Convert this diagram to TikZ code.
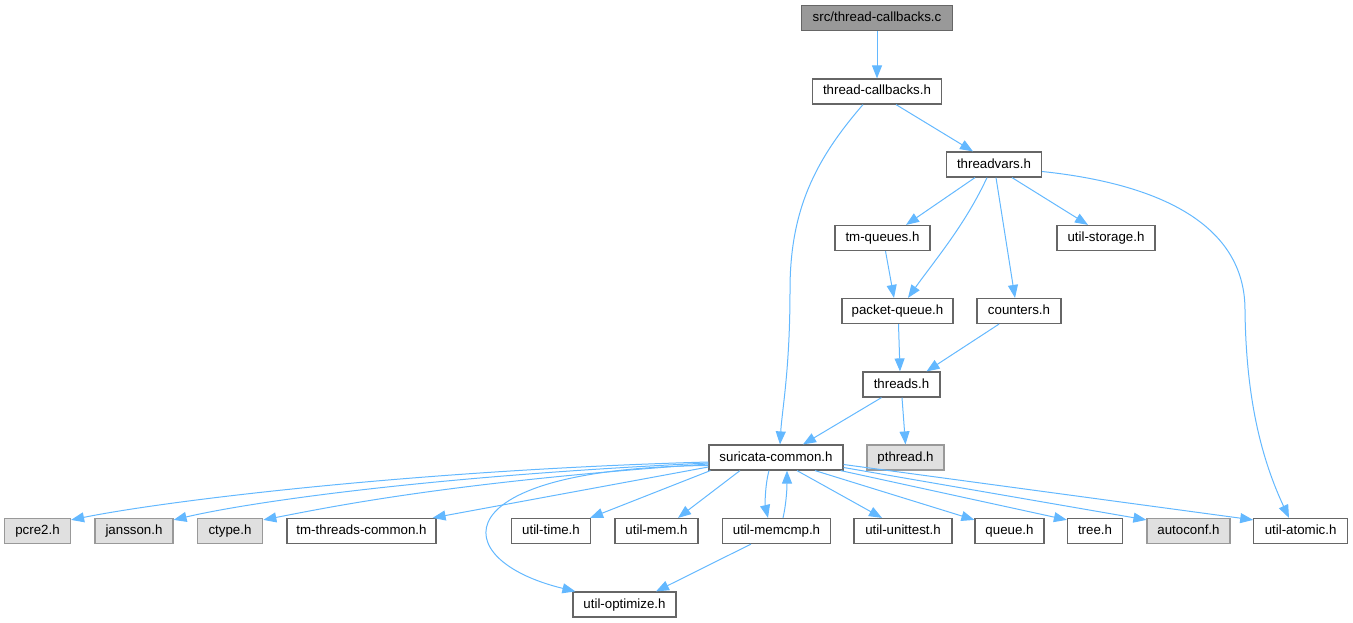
\documentclass[tikz,border=0pt]{standalone}
\usepackage{fontspec}
\setmainfont{Liberation Sans}
\usetikzlibrary{arrows.meta}
\definecolor{eblue}{HTML}{63B8FF}
\definecolor{bdark}{HTML}{666666}
\definecolor{bgray}{HTML}{999999}
\definecolor{flight}{HTML}{E0E0E0}
\tikzset{
  box/.style={draw=bdark, fill=white, line width=1.2pt, minimum height=25pt, inner sep=0pt,
    text height=9.8pt, text depth=2.8pt, font=\fontsize{13.3}{15}\selectfont},
  extbox/.style={box, draw=bgray, fill=flight},
  rootbox/.style={box, draw=bdark, fill=bgray},
  dep/.style={draw=eblue, line width=1pt, -{Triangle[length=13pt,width=10pt]}}
}
\begin{document}
\begin{tikzpicture}[x=1pt,y=-1pt]
\useasboundingbox (0,0) rectangle (1353,623);
% nodes
\node[rootbox, minimum width=151pt] (src) at (877,18) {src/thread-callbacks.c};
\node[box, minimum width=129pt] (tcb) at (877,91.5) {thread-callbacks.h};
\node[box, minimum width=95pt] (tv) at (994,164.5) {threadvars.h};
\node[box, minimum width=95pt] (tmq) at (882.5,238) {tm-queues.h};
\node[box, minimum width=98pt] (ustor) at (1106,238) {util-storage.h};
\node[box, minimum width=111pt] (pq) at (897.5,311) {packet-queue.h};
\node[box, minimum width=84pt] (cnt) at (1019,311) {counters.h};
\node[box, minimum width=77pt] (thr) at (901.5,384.5) {threads.h};
\node[box, minimum width=134pt] (sc) at (776,457.5) {suricata-common.h};
\node[extbox, minimum width=77pt] (pth) at (905.5,457.5) {pthread.h};
\node[extbox, minimum width=66pt] (pcre) at (37.5,531) {pcre2.h};
\node[extbox, minimum width=78pt] (jan) at (134,531) {jansson.h};
\node[extbox, minimum width=65.5pt] (ctype) at (230,531) {ctype.h};
\node[box, minimum width=149pt] (tmtc) at (361.5,531) {tm-threads-common.h};
\node[box, minimum width=79pt] (utime) at (551,531) {util-time.h};
\node[box, minimum width=83pt] (umem) at (656.5,531) {util-mem.h};
\node[box, minimum width=108pt] (umcmp) at (776.5,531) {util-memcmp.h};
\node[box, minimum width=98pt] (uunit) at (903,531) {util-unittest.h};
\node[box, minimum width=69pt] (queue) at (1009.5,531) {queue.h};
\node[box, minimum width=55pt] (tree) at (1095,531) {tree.h};
\node[extbox, minimum width=83pt] (autoc) at (1188.5,531) {autoconf.h};
\node[box, minimum width=93.6pt] (uatom) at (1300.6,531) {util-atomic.h};
\node[box, minimum width=103pt] (uopt) at (624.5,604.5) {util-optimize.h};
% edges
\draw[dep] (src) -- (tcb);
\draw[dep] ([xshift=19pt]tcb.south) -- ([xshift=-21pt]tv.north);
\draw[dep] ([xshift=-14pt]tcb.south) .. controls (815,160) and (790,210) .. (790,290)
  .. controls (790,370) and (782,410) .. ([xshift=4pt]sc.north);
\draw[dep] ([xshift=-19pt]tv.south) -- ([xshift=23.5pt]tmq.north);
\draw[dep] ([xshift=-7pt]tv.south) .. controls (965,225) and (935,260) .. ([xshift=10.5pt]pq.north);
\draw[dep] ([xshift=2pt]tv.south) -- ([xshift=-4pt]cnt.north);
\draw[dep] ([xshift=18pt]tv.south) -- ([xshift=-18pt]ustor.north);
\draw[dep] ([yshift=-7pt]tv.east) .. controls (1170,185) and (1245,230) .. (1245,310)
  .. controls (1246,400) and (1262,460) .. ([xshift=-11.6pt]uatom.north);
\draw[dep] ([xshift=3pt]tmq.south) -- ([xshift=-3.5pt]pq.north);
\draw[dep] ([xshift=1pt]pq.south) -- ([xshift=-1.5pt]thr.north);
\draw[dep] ([xshift=-20pt]cnt.south) -- ([xshift=25pt]thr.north);
\draw[dep] ([xshift=-20pt]thr.south) -- ([xshift=27pt]sc.north);
\draw[dep] ([xshift=0.5pt]thr.south) -- (pth.north);
% suricata-common fan
\draw[dep] ([yshift=-4.5pt]sc.west) .. controls (420,470) and (170,500) .. ([yshift=-2pt]pcre.north east);
\draw[dep] ([yshift=-5.5pt]sc.west) .. controls (430,476) and (250,502) .. ([yshift=-2pt]jan.north east);
\draw[dep] ([yshift=-6.5pt]sc.west) .. controls (450,482) and (330,507) .. ([yshift=-2pt]ctype.north east);
\draw[dep] ([yshift=-9.5pt]sc.west) -- ([xshift=-4pt]tmtc.north east);
\draw[dep] ([yshift=-8pt]sc.west) .. controls (440,468) and (445,560) .. ([xshift=3pt]uopt.north west);
\draw[dep] ([xshift=2pt]sc.south west) -- ([xshift=-1pt]utime.north east);
\draw[dep] ([xshift=-36pt]sc.south) -- ([xshift=21.5pt]umem.north);
\draw[dep] ([xshift=-7pt]sc.south) .. controls (765,485) and (765,505) .. ([xshift=-8.5pt]umcmp.north);
\draw[dep] ([xshift=6.5pt]umcmp.north) .. controls (786,505) and (787,490) .. ([xshift=11pt]sc.south);
\draw[dep] ([xshift=21pt]sc.south) -- ([xshift=-21pt]uunit.north);
\draw[dep] ([xshift=39pt]sc.south) -- ([yshift=-2pt]queue.north west);
\draw[dep] ([xshift=-3pt]sc.south east) -- ([yshift=-2pt]tree.north west);
\draw[dep] ([yshift=-10pt]sc.east) -- ([yshift=-2pt]autoc.north west);
\draw[dep] ([yshift=-7pt]sc.east) -- ([yshift=-2pt]uatom.north west);
\draw[dep] ([xshift=-25.5pt]umcmp.south) -- ([xshift=31.5pt]uopt.north);
\end{tikzpicture}
\end{document}
